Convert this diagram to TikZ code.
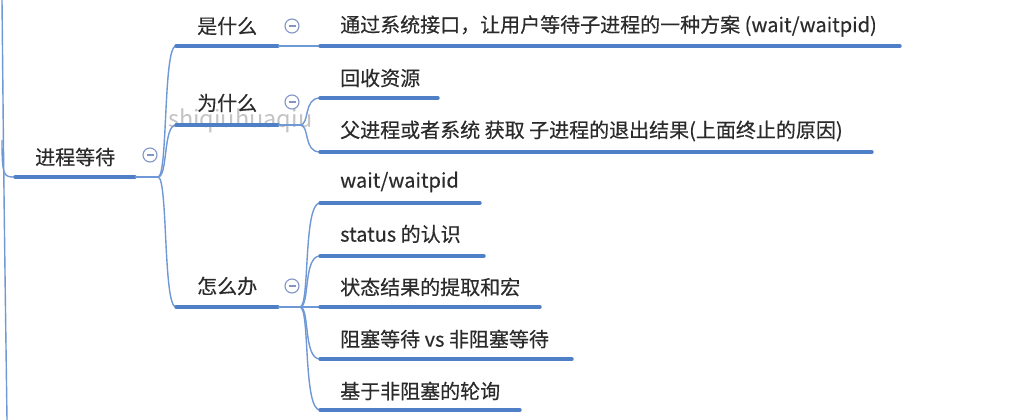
\documentclass[tikz,border=0pt]{standalone}
\usepackage{fontspec}
\usetikzlibrary{calc}
\newfontfamily\cjk[FakeBold=0.35]{Noto Sans CJK SC}
\newfontfamily\wmfont{Noto Sans CJK SC}
\definecolor{ul}{HTML}{4F7FC6}
\definecolor{cn}{HTML}{6E98D6}
\definecolor{txt}{HTML}{2B2B2B}
\definecolor{circ}{HTML}{8195C6}
\definecolor{wm}{HTML}{C4C4C4}
\tikzset{
  lbl/.style={anchor=west, inner sep=0pt, text=txt, font=\cjk\fontsize{20}{24}\selectfont},
  uline/.style={draw=ul, line width=3.4pt, line cap=round},
  conn/.style={draw=cn, line width=1.4pt},
  fold/.style={circle, draw=circ, line width=1.1pt, minimum size=14pt, inner sep=0pt, fill=white},
}
\begin{document}
\begin{tikzpicture}[x=1pt,y=-1pt]
\useasboundingbox[fill=white] (0,0) rectangle (1015,420);
% watermark
\node[anchor=west, inner sep=0pt, text=wm, font=\wmfont\fontsize{23.5}{26}\selectfont] (wmk) at (168,121) {shiqiuhuaqiu};

% left parent line
\coordinate (lt) at (2,0);
\coordinate (lb) at (7,420);
\draw[conn] (lt) .. controls (4,200) .. (lb);
% root
\coordinate (r0) at (15,177);
\coordinate (r1) at (135,177);
\coordinate (rj) at (158,177);
\draw[conn] (2,140) .. controls (2,177) and (4,177) .. (r0);
\draw[uline] (r0) -- (r1);
\draw[conn] (r1) -- (rj);
\node[lbl] (root) at (35,157) {进程等待};
\node[fold] (f0) at (150,155) {};
\draw[circ, line width=1.1pt] ($(f0)+(-3.5,0)$) -- ($(f0)+(3.5,0)$);

% level 1
\foreach \n/\y in {a/46, b/125, c/307}{
  \coordinate (\n0) at (176,\y);
  \coordinate (\n1) at (278,\y);
  \coordinate (\n j) at (300,\y);
  \draw[conn] (rj) .. controls (168,177) and (163,\y) .. (\n0);
  \draw[uline] (\n0) -- (\n1);
  \draw[conn] (\n1) -- (\n j);
}
\node[lbl] (ta) at (197,26) {是什么};
\node[lbl] (tb) at (197,103) {为什么};
\node[lbl] (tc) at (197,286) {怎么办};
\foreach \n/\y in {fa/26, fb/102, fc/286}{
  \node[fold] (\n) at (292,\y) {};
  \draw[circ, line width=1.1pt] ($(\n)+(-3.5,0)$) -- ($(\n)+(3.5,0)$);
}

% level 2 children of 是什么
\coordinate (a10) at (320,46);
\coordinate (a11) at (900,46);
\draw[conn] (aj) -- (a10);
\draw[uline] (a10) -- (a11);
\node[lbl] (ta1) at (340,26) {通过系统接口，让用户等待子进程的一种方案 (wait/waitpid)};

% children of 为什么
\foreach \i/\y/\e in {1/98/438, 2/152/872}{
  \coordinate (b\i 0) at (320,\y);
  \coordinate (b\i 1) at (\e,\y);
  \draw[conn] (bj) .. controls (310,125) and (303,\y) .. (b\i 0);
  \draw[uline] (b\i 0) -- (b\i 1);
}
\node[lbl] (tb1) at (340,78) {回收资源};
\node[lbl] (tb2) at (340,131) {父进程或者系统 获取 子进程的退出结果(上面终止的原因)};

% children of 怎么办
\foreach \i/\y/\e in {1/203/480, 2/256/484, 3/307/540, 4/359/572, 5/410/520}{
  \coordinate (c\i 0) at (320,\y);
  \coordinate (c\i 1) at (\e,\y);
  \draw[conn] (cj) .. controls (310,307) and (303,\y) .. (c\i 0);
  \draw[uline] (c\i 0) -- (c\i 1);
}
\node[lbl] (tc1) at (340,182) {wait/waitpid};
\node[lbl] (tc2) at (340,234) {status 的认识};
\node[lbl] (tc3) at (340,287) {状态结果的提取和宏};
\node[lbl] (tc4) at (340,339) {阻塞等待 vs 非阻塞等待};
\node[lbl] (tc5) at (340,391) {基于非阻塞的轮询};
\end{tikzpicture}
\end{document}
